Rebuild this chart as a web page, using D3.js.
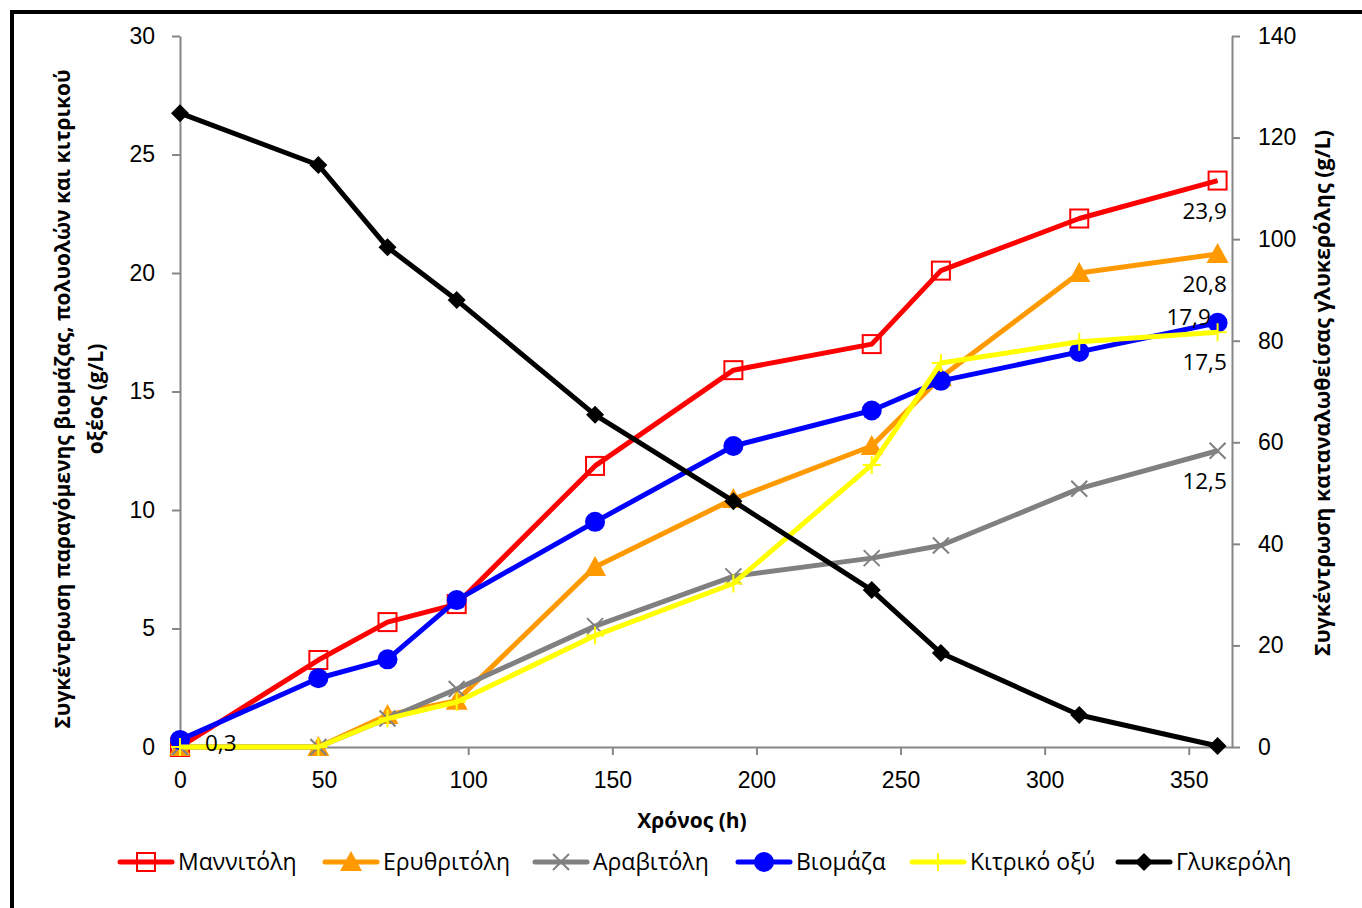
<!DOCTYPE html>
<html><head><meta charset="utf-8">
<script src="https://cdn.jsdelivr.net/npm/d3@7"></script>
<style>body{margin:0;background:#fff}svg{display:block;font-family:"Open Sans","Noto Sans",sans-serif}</style>
</head><body><svg id="c" width="1362" height="908"></svg>
<script>
const times = [0, 48, 72, 96, 144, 192, 240, 264, 312, 360];
const mannitol   = [0, 3.67, 5.27, 6.03, 11.86, 15.9, 17.0, 20.1, 22.3, 23.9];
const erythritol = [0, 0, 1.35, 1.95, 7.6, 10.46, 12.7, 15.6, 20.0, 20.8];
const arabitol   = [0, 0, 1.2, 2.45, 5.1, 7.2, 7.97, 8.5, 10.9, 12.5];
const biomass    = [0.3, 2.9, 3.7, 6.2, 9.5, 12.7, 14.2, 15.45, 16.67, 17.9];
const citric     = [0, 0, 1.2, 1.9, 4.7, 6.9, 11.9, 16.2, 17.1, 17.5];
const glycerol   = [124.8, 114.6, 98.4, 88.0, 65.4, 48.4, 30.9, 18.5, 6.3, 0.2];
const seriesNames = ["Μαννιτόλη","Ερυθριτόλη","Αραβιτόλη","Βιομάζα","Κιτρικό οξύ","Γλυκερόλη"];
const xTicks = [0,50,100,150,200,250,300,350];
const yLeftTicks = [0,5,10,15,20,25,30];
const yRightTicks = [0,20,40,60,80,100,120,140];
const labels = [
  {s:3, i:0, text:"0,3", pos:"right"},
  {s:0, i:9, text:"23,9", pos:"below"},
  {s:1, i:9, text:"20,8", pos:"below"},
  {s:3, i:9, text:"17,9", pos:"aboveleft"},
  {s:4, i:9, text:"17,5", pos:"below"},
  {s:2, i:9, text:"12,5", pos:"below"}
];

const svg = d3.select("#c");
const L = 180, R = 1232, T = 36, B = 747;
const x = d3.scaleLinear().domain([0,365]).range([L,R]);
const yL = d3.scaleLinear().domain([0,30]).range([B,T]);
const yR = d3.scaleLinear().domain([0,140]).range([B,T]);
const axisColor = "#868686";

// frame
svg.append("rect").attr("x",12).attr("y",12).attr("width",1400).attr("height",950)
  .attr("fill","none").attr("stroke","#000").attr("stroke-width",4);

function styleAxis(g){
  g.select(".domain").attr("stroke",axisColor).attr("stroke-width",2);
  g.selectAll(".tick line").attr("stroke",axisColor).attr("stroke-width",2);
  g.selectAll(".tick text").attr("fill","#000").attr("font-size",23);
}
const gx = svg.append("g").attr("transform",`translate(0,${B})`)
  .call(d3.axisBottom(x).tickValues(xTicks).tickSize(8).tickSizeOuter(0).tickPadding(17));
styleAxis(gx);
const gyl = svg.append("g").attr("transform",`translate(${L},0)`)
  .call(d3.axisLeft(yL).tickValues(yLeftTicks).tickSize(8).tickSizeOuter(0).tickPadding(17));
styleAxis(gyl);
const gyr = svg.append("g").attr("transform",`translate(${R},0)`)
  .call(d3.axisRight(yR).tickValues(yRightTicks).tickSize(8).tickSizeOuter(0).tickPadding(18));
styleAxis(gyr);

// axis titles
svg.append("text").attr("x",692).attr("y",828).attr("text-anchor","middle")
  .attr("font-size",21).attr("font-weight","bold").text("Χρόνος (h)");
const lt = svg.append("text").attr("transform","translate(70,399) rotate(-90)")
  .attr("text-anchor","middle").attr("font-size",21).attr("font-weight","bold");
lt.append("tspan").attr("x",0).attr("dy",0).text("Συγκέντρωση παραγόμενης βιομάζας, πολυολών και κιτρικού");
lt.append("tspan").attr("x",0).attr("dy",33).text("οξέος (g/L)");
svg.append("text").attr("transform","translate(1330,393) rotate(-90)")
  .attr("text-anchor","middle").attr("font-size",21.5).attr("font-weight","bold")
  .text("Συγκέντρωση καταναλωθείσας γλυκερόλης (g/L)");

const series = [
  {vals:mannitol, color:"#FF0000", marker:"square", axis:yL},
  {vals:erythritol, color:"#FF9900", marker:"triangle", axis:yL},
  {vals:arabitol, color:"#808080", marker:"x", axis:yL},
  {vals:biomass, color:"#0000FF", marker:"circle", axis:yL},
  {vals:citric, color:"#FFFF00", marker:"plus", axis:yL},
  {vals:glycerol, color:"#000000", marker:"diamond", axis:yR}
];

function drawMarker(g, type, color, cx, cy){
  if(type==="square"){
    g.append("rect").attr("x",cx-9).attr("y",cy-9).attr("width",18).attr("height",18)
      .attr("fill","#fff").attr("fill-opacity",0).attr("stroke",color).attr("stroke-width",2);
  } else if(type==="triangle"){
    g.append("path").attr("d",`M${cx},${cy-11}L${cx+11},${cy+9}L${cx-11},${cy+9}Z`).attr("fill",color);
  } else if(type==="x"){
    g.append("path").attr("d",`M${cx-8},${cy-8}L${cx+8},${cy+8}M${cx-8},${cy+8}L${cx+8},${cy-8}`)
      .attr("stroke",color).attr("stroke-width",2);
  } else if(type==="circle"){
    g.append("circle").attr("cx",cx).attr("cy",cy).attr("r",10).attr("fill",color);
  } else if(type==="plus"){
    g.append("path").attr("d",`M${cx-9},${cy}L${cx+9},${cy}M${cx},${cy-9}L${cx},${cy+9}`)
      .attr("stroke",color).attr("stroke-width",2);
  } else if(type==="diamond"){
    g.append("path").attr("d",`M${cx},${cy-9}L${cx+9},${cy}L${cx},${cy+9}L${cx-9},${cy}Z`).attr("fill",color);
  }
}

series.forEach(s=>{
  const g = svg.append("g");
  const line = d3.line().x((d,i)=>x(times[i])).y(d=>s.axis(d));
  g.append("path").attr("d",line(s.vals)).attr("fill","none").attr("stroke",s.color)
    .attr("stroke-width",5).attr("stroke-linejoin","round");
  s.vals.forEach((v,i)=>drawMarker(g,s.marker,s.color,x(times[i]),s.axis(v)));
});

// data labels
labels.forEach(l=>{
  const s = series[l.s];
  const px = x(times[l.i]), py = s.axis(s.vals[l.i]);
  const t = svg.append("text").attr("font-size",22.5).attr("fill","#000").text(l.text);
  if(l.pos==="right") t.attr("x",px+25).attr("y",py+11);
  else if(l.pos==="below") t.attr("x",px-13).attr("y",py+38).attr("text-anchor","middle");
  else if(l.pos==="aboveleft") t.attr("x",px-29).attr("y",py+2).attr("text-anchor","middle");
});

// legend
const legX = [120, 325, 535, 738, 912, 1118];
series.forEach((s,i)=>{
  const g = svg.append("g");
  const lx = legX[i], ly = 862;
  g.append("line").attr("x1",lx).attr("x2",lx+52).attr("y1",ly).attr("y2",ly)
    .attr("stroke",s.color).attr("stroke-width",5).attr("stroke-linecap","round");
  drawMarker(g,s.marker,s.color,lx+26,ly);
  g.append("text").attr("x",lx+58).attr("y",ly+8).attr("font-size",23).text(seriesNames[i]);
});
</script></body></html>
